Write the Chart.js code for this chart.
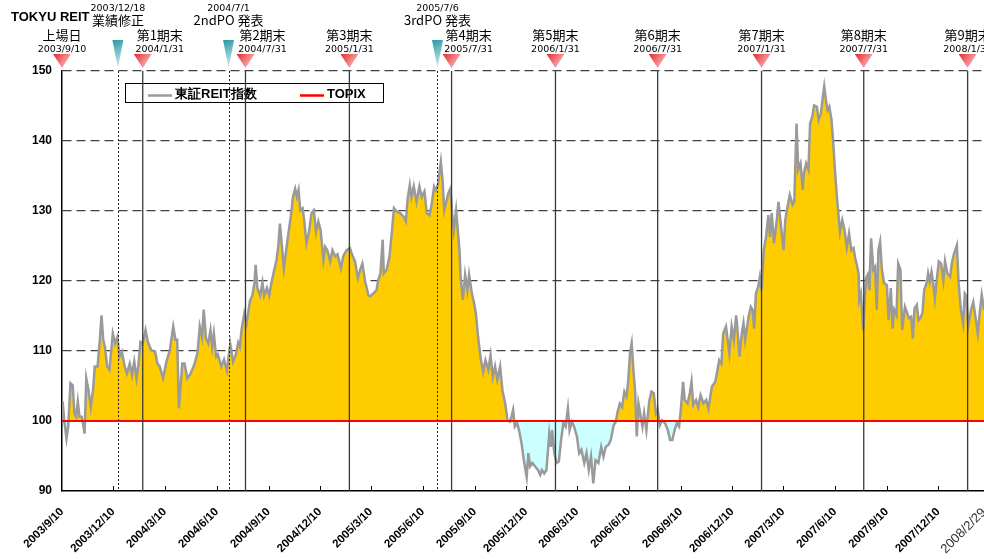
<!DOCTYPE html>
<html>
<head>
<meta charset="utf-8">
<script src="https://cdn.jsdelivr.net/npm/chart.js@4.4.1/dist/chart.umd.min.js"></script>
<style>
  html, body { margin: 0; padding: 0; background: #ffffff; }
  #wrap { width: 984px; height: 559px; position: relative; }
</style>
</head>
<body>
<div id="wrap"><canvas id="c" width="984" height="559"></canvas></div>
<script>
// Relative performance of TOKYU REIT vs. TOPIX (both = 100 on the listing day).
const BASE_DATE = '2003/9/10';

// x-axis tick labels (quarterly, plus the last observation date)
const tickLabels = ['2003/9/10', '2003/12/10', '2004/3/10', '2004/6/10', '2004/9/10', '2004/12/10',
  '2005/3/10', '2005/6/10', '2005/9/10', '2005/12/10', '2006/3/10', '2006/6/10', '2006/9/10',
  '2006/12/10', '2007/3/10', '2007/6/10', '2007/9/10', '2007/12/10', '2008/2/29'];

// Listing day and fiscal period ends
const periodLabels = ['上場日', '第1期末', '第2期末', '第3期末', '第4期末', '第5期末', '第6期末', '第7期末', '第8期末', '第9期末'];
const periodDates = ['2003/9/10', '2004/1/31', '2004/7/31', '2005/1/31', '2005/7/31', '2006/1/31', '2006/7/31', '2007/1/31', '2007/7/31', '2008/1/31'];

// Announcements
const eventLabels = ['業績修正', '2ndPO 発表', '3rdPO 発表'];
const eventDates = ['2003/12/18', '2004/7/1', '2005/7/6'];

// TOPIX benchmark level
const topixLevel = 100;

// TOKYU REIT relative index: [days since listing, value]
const reitSeries = [
  [0,100.0],[1,102.8],[4,100.1],[8,97.5],[11,99.2],[15,105.4],[19,105.1],[22,101.1],[25,100.6],[28,102.8],
  [31,100.6],[35,100.6],[40,98.2],[43,106.1],[47,104.4],[51,102.0],[55,104.4],[58,107.8],[63,107.8],[67,111.6],
  [70,115.1],[73,111.6],[76,110.6],[80,107.8],[84,107.3],[90,112.5],[94,111.1],[98,112.0],[102,109.2],[106,109.9],
  [111,107.8],[115,106.8],[120,108.2],[124,106.6],[128,108.5],[132,106.1],[135,107.8],[139,111.3],[143,111.1],[148,113.0],
  [152,111.3],[158,110.1],[165,109.9],[169,108.2],[173,107.8],[179,106.1],[185,108.5],[191,110.1],[197,113.5],[201,111.6],
  [204,111.6],[207,101.8],[213,108.2],[217,108.2],[222,106.1],[228,106.8],[234,108.0],[240,109.7],[244,113.5],[248,112.0],
  [251,115.9],[255,111.8],[259,111.1],[263,113.0],[266,110.6],[269,112.5],[273,109.2],[276,109.5],[282,107.8],[287,108.8],
  [292,107.2],[298,111.0],[303,108.5],[308,109.5],[312,111.2],[315,110.6],[318,113.0],[323,115.4],[327,114.0],[333,117.2],
  [337,117.9],[341,119.8],[343,122.3],[346,119.0],[351,117.9],[355,119.8],[358,117.9],[363,119.0],[367,117.9],[371,119.8],
  [376,121.6],[380,123.0],[383,124.9],[386,128.2],[389,125.4],[393,121.8],[397,124.4],[401,126.8],[406,129.7],[409,132.0],
  [413,133.2],[416,132.0],[419,133.0],[422,130.1],[426,130.4],[429,128.7],[433,125.4],[437,126.8],[442,129.7],[446,130.1],
  [450,127.0],[454,128.5],[458,127.3],[463,123.0],[466,124.9],[470,124.4],[475,122.8],[479,124.4],[484,123.5],[488,123.8],
  [494,121.8],[498,123.5],[504,124.4],[510,124.7],[514,123.7],[519,122.8],[524,120.4],[528,121.6],[532,122.5],[537,119.9],
  [543,117.9],[546,117.8],[551,118.2],[557,118.7],[560,120.1],[564,121.1],[568,125.9],[570,121.1],[575,121.6],[580,123.5],
  [584,126.8],[588,130.4],[593,129.9],[599,129.7],[605,129.2],[609,128.5],[612,131.6],[616,133.7],[619,132.0],[623,133.5],
  [628,131.3],[633,133.5],[637,132.0],[642,132.8],[646,129.7],[651,129.4],[655,131.1],[659,133.5],[662,133.0],[666,133.8],
  [671,137.0],[674,134.4],[677,130.1],[680,131.1],[684,132.5],[688,133.2],[691,129.7],[694,127.3],[698,130.1],[701,127.3],
  [704,124.4],[706,120.6],[710,117.3],[714,120.9],[718,118.7],[721,120.9],[726,118.2],[730,116.8],[733,115.4],[737,112.0],
  [742,108.7],[746,107.0],[750,108.7],[755,107.3],[759,109.4],[763,106.3],[767,107.8],[771,105.9],[776,107.8],[780,104.4],
  [785,102.5],[789,100.1],[793,99.9],[796,100.6],[799,101.6],[802,99.2],[806,99.7],[810,98.5],[814,96.8],[818,94.4],
  [823,92.0],[826,95.4],[829,93.5],[833,94.0],[838,93.5],[843,93.0],[847,92.3],[850,93.0],[854,92.5],[858,93.0],
  [863,98.2],[866,96.3],[868,98.7],[872,95.4],[876,94.0],[880,94.2],[884,97.3],[888,99.7],[892,99.2],[896,101.8],
  [899,98.7],[903,99.9],[907,99.2],[912,97.8],[916,95.4],[920,95.9],[925,94.0],[929,95.4],[933,93.0],[937,94.9],
  [941,91.1],[945,94.4],[950,94.0],[955,96.3],[959,94.9],[963,96.3],[968,96.6],[972,97.3],[977,99.4],[981,99.9],
  [984,101.3],[988,102.5],[992,102.0],[996,104.2],[1000,103.5],[1003,105.9],[1006,109.7],[1009,111.1],[1012,107.3],[1015,104.4],
  [1018,97.8],[1021,102.5],[1024,101.1],[1028,99.2],[1031,101.1],[1035,98.7],[1040,102.8],[1044,104.2],[1048,104.0],[1052,101.1],
  [1055,101.6],[1059,99.4],[1063,100.1],[1068,99.7],[1073,98.7],[1077,97.3],[1081,97.3],[1085,98.7],[1089,99.7],[1093,99.2],
  [1096,101.6],[1100,105.6],[1103,103.0],[1108,102.5],[1112,104.0],[1115,105.6],[1118,102.3],[1123,103.0],[1127,102.0],[1131,103.7],
  [1136,102.5],[1141,103.0],[1145,101.8],[1151,104.9],[1157,105.6],[1161,107.3],[1164,108.7],[1168,108.2],[1171,112.5],[1176,113.5],
  [1179,111.6],[1182,109.7],[1186,113.5],[1190,111.6],[1194,115.1],[1196,113.5],[1200,109.2],[1204,112.5],[1207,114.0],[1210,111.6],
  [1216,114.9],[1220,116.3],[1223,115.9],[1226,113.2],[1229,118.2],[1233,119.2],[1236,120.6],[1239,118.7],[1243,124.4],[1247,126.3],
  [1251,129.4],[1254,126.3],[1257,129.7],[1261,125.4],[1266,128.7],[1269,131.3],[1273,128.2],[1278,124.4],[1281,128.7],[1285,130.6],
  [1289,132.3],[1294,130.9],[1297,131.3],[1301,142.5],[1304,135.9],[1308,136.8],[1312,133.0],[1314,135.4],[1318,136.8],[1322,135.9],
  [1325,142.5],[1329,143.5],[1332,145.1],[1337,144.9],[1340,143.0],[1344,143.9],[1347,145.9],[1350,147.8],[1353,145.9],[1356,144.4],
  [1359,144.9],[1363,143.0],[1366,139.7],[1369,135.9],[1372,132.5],[1378,127.0],[1382,128.7],[1386,127.3],[1390,124.8],[1394,126.8],
  [1398,124.4],[1402,124.7],[1405,123.2],[1408,122.3],[1411,120.9],[1412,117.3],[1415,118.2],[1419,113.0],[1424,120.4],[1427,120.9],
  [1430,118.7],[1433,126.1],[1437,121.6],[1440,122.0],[1443,115.9],[1446,124.4],[1449,125.6],[1452,121.8],[1456,119.7],[1461,119.4],
  [1464,114.4],[1468,119.0],[1471,113.2],[1474,115.9],[1478,115.1],[1481,122.5],[1485,121.6],[1488,113.0],[1493,116.3],[1497,115.4],
  [1500,114.7],[1504,114.9],[1507,111.8],[1510,116.1],[1514,116.6],[1517,114.4],[1520,114.7],[1524,115.4],[1527,118.7],[1532,119.9],
  [1534,121.1],[1537,119.9],[1540,121.3],[1543,119.7],[1546,117.5],[1549,119.9],[1553,122.8],[1557,122.5],[1561,120.1],[1564,122.8],
  [1568,121.1],[1573,120.6],[1576,122.5],[1580,123.9],[1585,125.1],[1588,119.7],[1592,115.9],[1596,114.0],[1599,118.2],[1602,117.8],
  [1605,113.5],[1610,115.9],[1614,117.0],[1617,115.4],[1622,112.5],[1626,115.9],[1629,118.0],[1633,115.9]
];

// ---- helpers ----
function dayOf(s) {
  const [y, m, d] = s.split('/').map(Number);
  const [by, bm, bd] = BASE_DATE.split('/').map(Number);
  return Math.round((Date.UTC(y, m - 1, d) - Date.UTC(by, bm - 1, bd)) / 864e5);
}
const tickDays = tickLabels.map(dayOf);
const xMax = tickDays[tickDays.length - 1];

const SANS = '"Liberation Sans", Arial, sans-serif';
const CJK = '"Noto Sans CJK JP", "Noto Sans", sans-serif';
const SMALL = '"DejaVu Sans", sans-serif';

function triangle(ctx, x, tipY, w, h, c1, c2) {
  const g = ctx.createLinearGradient(x - w / 2, tipY - h, x + w / 2, tipY);
  g.addColorStop(0, c1);
  g.addColorStop(1, c2);
  ctx.fillStyle = g;
  ctx.beginPath();
  ctx.moveTo(x - w / 2, tipY - h);
  ctx.lineTo(x + w / 2, tipY - h);
  ctx.lineTo(x, tipY);
  ctx.closePath();
  ctx.fill();
}

// legend box, event lines, inner tick marks, header markers
const overlay = {
  id: 'overlay',
  afterDraw(chart) {
    const { ctx, chartArea: a, scales: { x } } = chart;
    ctx.save();

    // inward tick marks on the x axis
    ctx.strokeStyle = '#000';
    ctx.lineWidth = 1;
    tickDays.forEach((d, i) => {
      if (i === 0 || i === tickDays.length - 1) return;
      const px = Math.round(x.getPixelForValue(d)) + 0.5;
      ctx.beginPath();
      ctx.moveTo(px, a.bottom);
      ctx.lineTo(px, a.bottom - 5);
      ctx.stroke();
    });

    // legend
    const lx = a.left + 63, ly = a.top + 12, lw = 258, lh = 19;
    ctx.fillStyle = '#fff';
    ctx.fillRect(lx, ly, lw, lh);
    ctx.strokeStyle = '#000';
    ctx.lineWidth = 1;
    ctx.strokeRect(lx + 0.5, ly + 0.5, lw, lh);
    const ds = chart.data.datasets;
    const items = [{ ds: ds[0], x: lx + 23 }, { ds: ds[1], x: lx + 175 }];
    ctx.font = 'bold 13px ' + SANS;
    ctx.textBaseline = 'middle';
    ctx.textAlign = 'left';
    items.forEach(it => {
      ctx.strokeStyle = it.ds.borderColor;
      ctx.lineWidth = 2.5;
      ctx.beginPath();
      ctx.moveTo(it.x, ly + 12.5);
      ctx.lineTo(it.x + 24, ly + 12.5);
      ctx.stroke();
      ctx.fillStyle = '#000';
      ctx.fillText(it.ds.label, it.x + 27, ly + 11);
    });

    // announcement lines (dotted)
    const eventPx = eventDates.map(d => x.getPixelForValue(dayOf(d)));
    ctx.strokeStyle = '#222';
    ctx.lineWidth = 1;
    ctx.setLineDash([2, 2]);
    eventPx.forEach(px => {
      const p = Math.round(px) + 0.5;
      ctx.beginPath();
      ctx.moveTo(p, a.top);
      ctx.lineTo(p, a.bottom);
      ctx.stroke();
    });
    ctx.setLineDash([]);

    // period-end lines (solid)
    const periodPx = periodDates.map(d => x.getPixelForValue(dayOf(d)));
    ctx.strokeStyle = '#3a3a3a';
    ctx.lineWidth = 1.3;
    periodPx.forEach((px, i) => {
      if (i === 0) return;
      ctx.beginPath();
      ctx.moveTo(px, a.top);
      ctx.lineTo(px, a.bottom);
      ctx.stroke();
    });

    // header title
    ctx.fillStyle = '#000';
    ctx.textAlign = 'left';
    ctx.textBaseline = 'middle';
    ctx.font = 'bold 13px ' + SANS;
    ctx.fillText('TOKYU REIT', 11, 17);

    // announcement markers
    eventPx.forEach((px, i) => {
      triangle(ctx, px, a.top - 3, 11, 28, '#2b98a4', '#dff6f8');
      ctx.fillStyle = '#000';
      ctx.textAlign = 'center';
      ctx.font = '9.5px ' + SMALL;
      ctx.fillText(eventDates[i], px, a.top - 62.5);
      ctx.font = '13px ' + CJK;
      ctx.fillText(eventLabels[i], px, a.top - 51);
    });

    // period-end markers
    periodPx.forEach((px, i) => {
      triangle(ctx, px, a.top - 3, 18, 14, '#e4262c', '#ffd6d6');
      const near = eventPx.some(e => px - e > 0 && px - e < 30);
      const tx = near ? px + 17 : px;
      ctx.fillStyle = '#000';
      ctx.textAlign = 'center';
      ctx.font = '13px ' + CJK;
      ctx.fillText(periodLabels[i], tx, a.top - 36);
      ctx.font = '9.5px ' + SMALL;
      ctx.fillText(periodDates[i], tx, a.top - 21);
    });

    ctx.restore();
  }
};

new Chart(document.getElementById('c'), {
  type: 'line',
  data: {
    datasets: [
      {
        label: '東証REIT指数',
        data: reitSeries.map(([d, v]) => ({ x: d, y: v })),
        borderColor: '#9a9a9a',
        borderWidth: 2.5,
        pointRadius: 0,
        tension: 0,
        fill: { target: { value: topixLevel }, above: '#ffcc00', below: '#ccffff' },
        order: 1
      },
      {
        label: 'TOPIX',
        data: [{ x: 0, y: topixLevel }, { x: xMax, y: topixLevel }],
        borderColor: '#ff0000',
        borderWidth: 2,
        pointRadius: 0,
        fill: false,
        order: 0
      }
    ]
  },
  options: {
    responsive: false,
    devicePixelRatio: 1,
    animation: false,
    events: [],
    layout: { padding: { left: 0, top: 71, right: 0, bottom: 0 } },
    plugins: { legend: { display: false }, tooltip: { enabled: false } },
    scales: {
      x: {
        type: 'linear',
        min: 0,
        max: xMax,
        offset: false,
        grid: { display: false },
        border: { display: true, color: '#000', width: 1.5 },
        afterBuildTicks(scale) { scale.ticks = tickDays.map(v => ({ value: v })); },
        afterFit(scale) { scale.height = 68; scale.paddingLeft = 0; scale.paddingRight = 0; },
        ticks: {
          autoSkip: false,
          minRotation: 45,
          maxRotation: 45,
          padding: 6,
          color: ctx => (ctx.index === tickLabels.length - 1 ? '#333' : '#000'),
          font: ctx => (ctx.index === tickLabels.length - 1
            ? { family: SANS, size: 13, weight: 'normal' }
            : { family: SANS, size: 11.5, weight: 'bold' }),
          callback: (v, i) => tickLabels[i]
        }
      },
      y: {
        min: 90,
        max: 150,
        grid: {
          drawTicks: false,
          color: ctx => (ctx.tick && (ctx.tick.value === 90 || ctx.tick.value === topixLevel) ? 'rgba(0,0,0,0)' : '#404040'),
          lineWidth: 1.3
        },
        border: { display: true, color: '#000', width: 1.5, dash: [9, 5] },
        afterFit(scale) { scale.width = 62; },
        ticks: {
          stepSize: 10,
          padding: 10,
          color: '#000',
          font: { family: SANS, size: 12, weight: 'bold' }
        }
      }
    }
  },
  plugins: [overlay]
});
</script>
</body>
</html>
